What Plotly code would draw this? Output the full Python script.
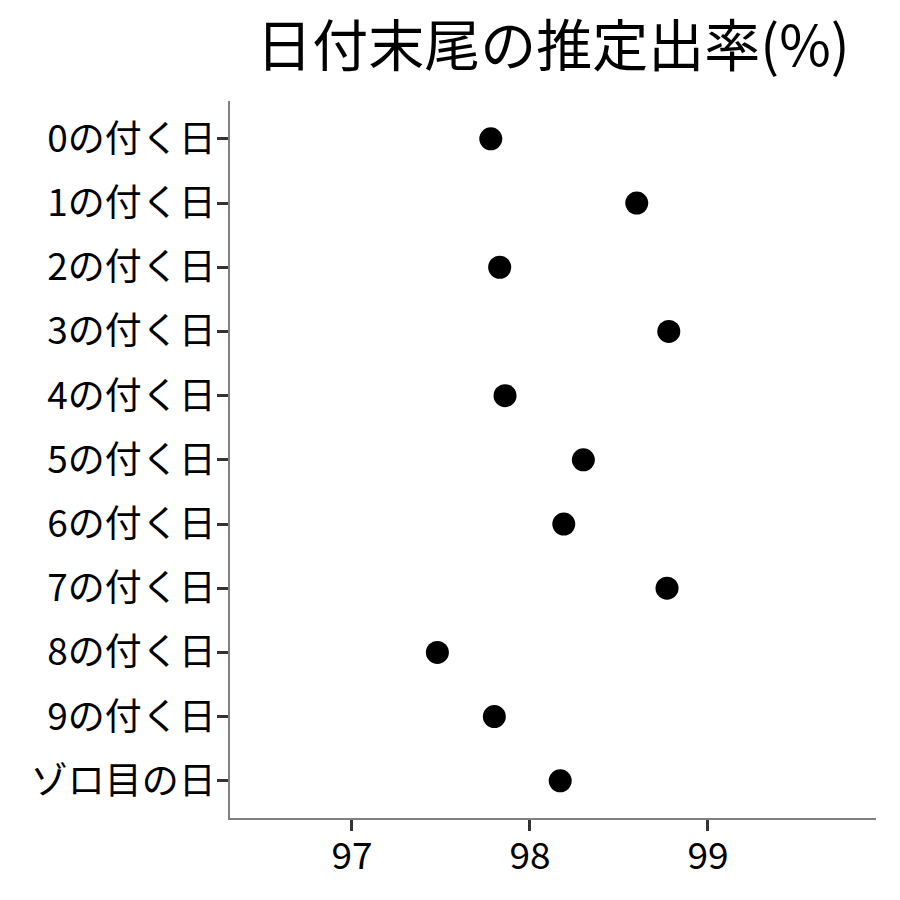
import plotly.graph_objects as go

# Day-of-month ending categories and their estimated attendance rate (%)
categories = ["0の付く日", "1の付く日", "2の付く日", "3の付く日", "4の付く日",
              "5の付く日", "6の付く日", "7の付く日", "8の付く日", "9の付く日",
              "ゾロ目の日"]
rates = [97.78, 98.60, 97.83, 98.78, 97.86, 98.30, 98.19, 98.77, 97.48, 97.80, 98.17]
x_ticks = [97, 98, 99]

font_family = "Noto Sans CJK JP"

fig = go.Figure(
    go.Scatter(
        x=rates,
        y=categories,
        mode="markers",
        marker=dict(color="black", size=23, line=dict(width=0)),
        hoverinfo="x+y",
    )
)

fig.update_layout(
    width=900,
    height=900,
    margin=dict(l=230, r=24, t=101, b=82),
    paper_bgcolor="white",
    plot_bgcolor="white",
    showlegend=False,
    font=dict(family=font_family, color="black"),
    title=dict(
        text="日付末尾の推定出率(%)",
        xref="paper",
        x=0.5,
        xanchor="center",
        y=0.948,
        yanchor="middle",
        font=dict(family=font_family, size=56, color="black"),
    ),
)

fig.update_xaxes(
    range=[96.315, 99.944],
    tickvals=x_ticks,
    ticktext=[str(v) for v in x_ticks],
    showgrid=False,
    zeroline=False,
    showline=True,
    linecolor="#808080",
    linewidth=1.5,
    ticks="outside",
    ticklen=11,
    tickwidth=2.5,
    tickcolor="#333333",
    ticklabelstandoff=-6,
    tickfont=dict(family=font_family, size=37, color="black"),
)

fig.update_yaxes(
    type="category",
    categoryorder="array",
    categoryarray=categories,
    range=[len(categories) - 1 + 0.58, -0.59],
    showgrid=False,
    zeroline=False,
    showline=True,
    linecolor="#808080",
    linewidth=1.5,
    ticks="outside",
    ticklen=11,
    tickwidth=2.5,
    tickcolor="#333333",
    ticklabelstandoff=-6,
    tickfont=dict(family=font_family, size=37, color="black"),
)

fig.write_html("out.html")
